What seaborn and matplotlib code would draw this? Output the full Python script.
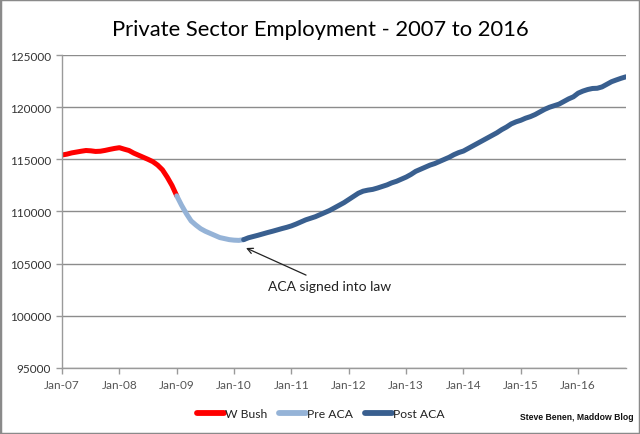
import numpy as np
import pandas as pd
import matplotlib
matplotlib.use("Agg")
import matplotlib.pyplot as plt
import matplotlib.patches as mpatches
import seaborn as sns

# Monthly private sector employment (thousands), Jan 2007 - Nov 2016
y2007 = [115420, 115500, 115620, 115700, 115780, 115850, 115820, 115760, 115780, 115860, 115960, 116050]
y2008 = [116120, 115980, 115850, 115600, 115400, 115200, 115000, 114780, 114450, 114000, 113300, 112500]
y2009 = [111500, 110600, 109800, 109100, 108700, 108350, 108100, 107900, 107700, 107500, 107400, 107300]
y2010 = [107250, 107230, 107300, 107480, 107600, 107720, 107850, 107980, 108100, 108230, 108360, 108480]
y2011 = [108620, 108800, 109000, 109200, 109350, 109500, 109700, 109900, 110100, 110350, 110600, 110850]
y2012 = [111150, 111450, 111750, 111950, 112050, 112120, 112250, 112400, 112550, 112750, 112900, 113100]
y2013 = [113300, 113550, 113850, 114050, 114250, 114450, 114600, 114800, 115000, 115200, 115450, 115650]
y2014 = [115800, 116050, 116300, 116550, 116800, 117050, 117300, 117550, 117850, 118100, 118400, 118600]
y2015 = [118750, 118950, 119100, 119300, 119550, 119800, 120000, 120150, 120300, 120550, 120800, 121000]
y2016 = [121350, 121550, 121700, 121800, 121820, 121950, 122200, 122450, 122620, 122780, 122920]

series_names = ["W Bush", "Pre ACA", "Post ACA"]
series_colors = ["#FF0000", "#95B3D7", "#395F8F"]
bush_end = 24      # Jan-09
aca_signed = 38    # Mar-10
x_tick_labels = ["Jan-07", "Jan-08", "Jan-09", "Jan-10", "Jan-11",
                 "Jan-12", "Jan-13", "Jan-14", "Jan-15", "Jan-16"]
y_ticks = [95000, 100000, 105000, 110000, 115000, 120000, 125000]

values = y2007 + y2008 + y2009 + y2010 + y2011 + y2012 + y2013 + y2014 + y2015 + y2016
months = np.arange(len(values))

frames = []
bounds = [(0, bush_end), (bush_end, aca_signed), (aca_signed, len(values) - 1)]
for name, (a, b) in zip(series_names, bounds):
    frames.append(pd.DataFrame({"month": months[a:b + 1],
                                "value": values[a:b + 1],
                                "series": name}))
df = pd.concat(frames, ignore_index=True)

sns.set_theme(style="white")
plt.rcParams["font.family"] = ["Lato", "DejaVu Sans"]

fig = plt.figure(figsize=(6.4, 4.35), dpi=100)
ax = fig.add_axes([0.097, 0.152, 0.881, 0.719])

sns.lineplot(data=df, x="month", y="value", hue="series", hue_order=series_names,
             palette=series_colors, linewidth=3.6, ax=ax, legend=True,
             solid_capstyle="round", sort=False)

ax.set_xlim(0, len(values) - 1)
ax.set_ylim(95000, 125000)
ax.set_yticks(y_ticks)
ax.set_yticklabels([str(v) for v in y_ticks], fontsize=8.5, color="#333333")
ax.set_xticks(np.arange(len(x_tick_labels)) * 12)
ax.set_xticklabels(x_tick_labels, fontsize=8.5, color="#555555")
ax.set_xlabel("")
ax.set_ylabel("")

ax.yaxis.grid(True, color="#8C8C8C", linewidth=1)
ax.set_axisbelow(True)
for s in ["top", "right"]:
    ax.spines[s].set_visible(False)
for s in ["left", "bottom"]:
    ax.spines[s].set_color("#9A9A9A")
    ax.spines[s].set_linewidth(1)
ax.tick_params(axis="both", which="major", direction="out", length=4,
               width=1, color="#9A9A9A", left=True, bottom=True, pad=4)

ax.annotate("ACA signed into law", xy=(aca_signed + 0.5, 106500),
            xytext=(43, 102900), fontsize=10, color="#222222", va="center", ha="left",
            arrowprops=dict(arrowstyle="->", color="#222222", lw=0.9,
                            shrinkA=2, shrinkB=0))

handles, labels = ax.get_legend_handles_labels()
for h in handles:
    h.set_linewidth(4.2)
    h.set_solid_capstyle("round")
leg = ax.legend(handles, labels, loc="center", bbox_to_anchor=(0.459, -0.147),
                ncol=3, frameon=False, fontsize=8.7, handlelength=2.2,
                handletextpad=0.1, columnspacing=1.0)
for t in leg.get_texts():
    t.set_color("#222222")

fig.text(0.5, 0.93, "Private Sector Employment - 2007 to 2016", ha="center",
         va="center", fontsize=15.8, color="#000000")
fig.text(0.99, 0.04, "Steve Benen, Maddow Blog", ha="right", va="center",
         fontsize=6.2, fontweight="bold", color="#111111",
         family=["Liberation Sans Narrow", "Liberation Sans", "DejaVu Sans"])

fig.patches.append(mpatches.Rectangle((0, 0), 1, 1, transform=fig.transFigure,
                                      fill=False, edgecolor="#8A8A8A", linewidth=2.5))

fig.savefig("out.png", dpi=100)
